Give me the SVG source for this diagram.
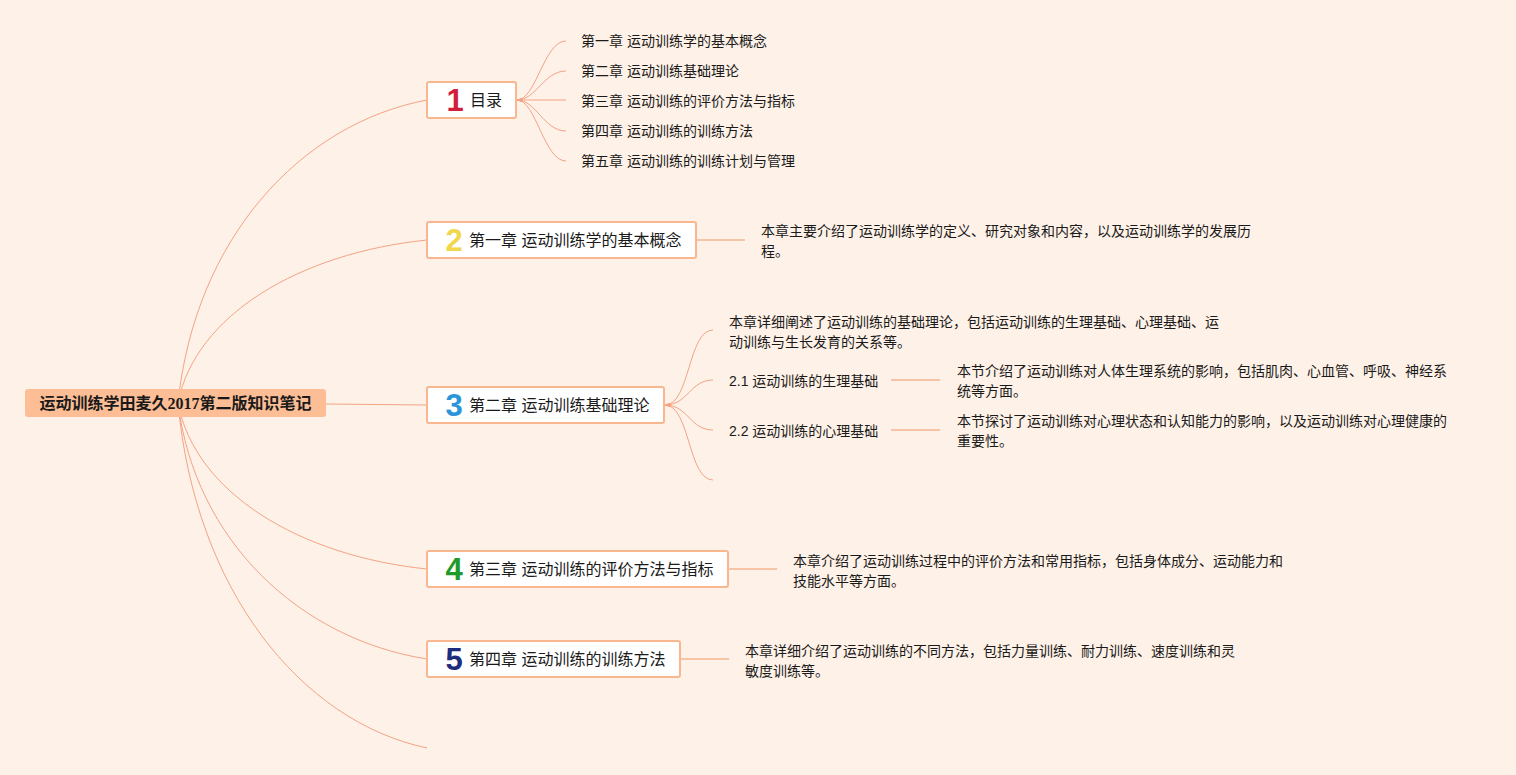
<svg xmlns="http://www.w3.org/2000/svg" width="1516" height="775" viewBox="0 0 1516 775">
<style>
.bg{fill:#fef1e7}
.root{fill:#fdbe96}
.rt{font-family:"Liberation Serif","Noto Sans CJK SC",serif;font-weight:bold;font-size:16px;fill:#1a1a1a}
.box{fill:#ffffff;stroke:#f8b78f;stroke-width:2}
.bt{font-family:"Liberation Sans","Noto Sans CJK SC",sans-serif;font-size:16px;fill:#1a1a1a}
.num{font-family:"Liberation Sans","Noto Sans CJK SC",sans-serif;font-weight:bold;font-size:31px}
.t{font-family:"Liberation Sans","Noto Sans CJK SC",sans-serif;font-size:14px;fill:#1a1a1a}
.c{fill:none;stroke:#f3a385;stroke-width:1}
.h{fill:none;stroke:#f7c4a8;stroke-width:2}
</style>
<rect class="bg" x="0" y="0" width="1516" height="775"/>
<g id="connectors">
<path class="c" d="M178,403 C195,239 300,124 427,100"/>
<path class="c" d="M178,403 C195,315 300,253 427,240"/>
<path class="c" d="M326,404 L427,405"/>
<path class="c" d="M178,403 C195,493 300,556 427,569"/>
<path class="c" d="M178,403 C195,541 300,639 427,659"/>
<path class="c" d="M178,403 C195,589 300,721 427,748"/>
<path class="c" d="M517,100 C536,100 544,41 566,41"/>
<path class="c" d="M517,100 C536,100 544,71 566,71"/>
<path class="c" d="M517,100 L566,100"/>
<path class="c" d="M517,100 C536,100 544,131 566,131"/>
<path class="c" d="M517,100 C536,100 544,161 566,161"/>
<circle cx="521" cy="100" r="2" fill="#f3a385"/>
<path class="c" d="M665,405 C690,405 688,330 713,330"/>
<path class="c" d="M665,405 C688,405 690,380 713,380"/>
<path class="c" d="M665,405 C688,405 690,430 713,430"/>
<path class="c" d="M665,405 C690,405 688,480 713,480"/>
<circle cx="669" cy="405" r="2" fill="#f3a385"/>
<path class="h" d="M697,240 L745,240"/>
<path class="h" d="M891,380 L940,380"/>
<path class="h" d="M891,430 L940,430"/>
<path class="h" d="M729,569 L777,569"/>
<path class="h" d="M681,659 L729,659"/>
</g>
<g id="root">
<rect class="root" x="25" y="389" width="301" height="28" rx="3"/>
<text class="rt" x="175.5" y="409" text-anchor="middle">运动训练学田麦久2017第二版知识笔记</text>
</g>
<g id="n1">
<rect class="box" x="427" y="82" width="89" height="36" rx="2"/>
<text class="num" x="455" y="111" text-anchor="middle" fill="#d21e3c">1</text>
<text class="bt" x="470" y="106">目录</text>
</g>
<g id="n1-items">
<text class="t" x="581" y="46">第一章 运动训练学的基本概念</text>
<text class="t" x="581" y="76">第二章 运动训练基础理论</text>
<text class="t" x="581" y="106">第三章 运动训练的评价方法与指标</text>
<text class="t" x="581" y="136">第四章 运动训练的训练方法</text>
<text class="t" x="581" y="166">第五章 运动训练的训练计划与管理</text>
</g>
<g id="n2">
<rect class="box" x="427" y="222" width="269" height="36" rx="2"/>
<text class="num" x="454" y="251" text-anchor="middle" fill="#f2d64c">2</text>
<text class="bt" x="469" y="246">第一章 运动训练学的基本概念</text>
</g>
<g id="n2-desc">
<text class="t" x="761" y="236">本章主要介绍了运动训练学的定义、研究对象和内容，以及运动训练学的发展历</text>
<text class="t" x="761" y="256">程。</text>
</g>
<g id="n3">
<rect class="box" x="427" y="387" width="237" height="36" rx="2"/>
<text class="num" x="454" y="416" text-anchor="middle" fill="#2b95d9">3</text>
<text class="bt" x="469" y="411">第二章 运动训练基础理论</text>
</g>
<g id="n3-desc">
<text class="t" x="729" y="327">本章详细阐述了运动训练的基础理论，包括运动训练的生理基础、心理基础、运</text>
<text class="t" x="729" y="347">动训练与生长发育的关系等。</text>
</g>
<g id="n3-1">
<text class="t" x="729" y="386">2.1 运动训练的生理基础</text>
</g>
<g id="n3-1-desc">
<text class="t" x="957" y="376">本节介绍了运动训练对人体生理系统的影响，包括肌肉、心血管、呼吸、神经系</text>
<text class="t" x="957" y="396">统等方面。</text>
</g>
<g id="n3-2">
<text class="t" x="729" y="436">2.2 运动训练的心理基础</text>
</g>
<g id="n3-2-desc">
<text class="t" x="957" y="426">本节探讨了运动训练对心理状态和认知能力的影响，以及运动训练对心理健康的</text>
<text class="t" x="957" y="446">重要性。</text>
</g>
<g id="n4">
<rect class="box" x="427" y="551" width="301" height="36" rx="2"/>
<text class="num" x="454" y="580" text-anchor="middle" fill="#1e9b2a">4</text>
<text class="bt" x="469" y="575">第三章 运动训练的评价方法与指标</text>
</g>
<g id="n4-desc">
<text class="t" x="793" y="566">本章介绍了运动训练过程中的评价方法和常用指标，包括身体成分、运动能力和</text>
<text class="t" x="793" y="586">技能水平等方面。</text>
</g>
<g id="n5">
<rect class="box" x="427" y="641" width="253" height="36" rx="2"/>
<text class="num" x="454" y="670" text-anchor="middle" fill="#1f2b7c">5</text>
<text class="bt" x="469" y="665">第四章 运动训练的训练方法</text>
</g>
<g id="n5-desc">
<text class="t" x="745" y="656">本章详细介绍了运动训练的不同方法，包括力量训练、耐力训练、速度训练和灵</text>
<text class="t" x="745" y="676">敏度训练等。</text>
</g>
</svg>
